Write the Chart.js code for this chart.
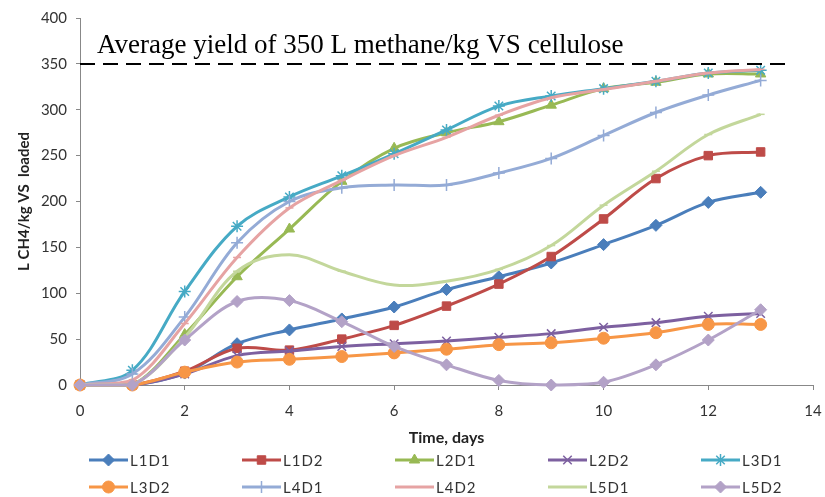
<!DOCTYPE html>
<html>
<head>
<meta charset="utf-8">
<script src="https://cdn.jsdelivr.net/npm/chart.js@4.4.0/dist/chart.umd.min.js"></script>
<style>
  html, body { margin: 0; padding: 0; background: #fff; }
  #wrap { width: 825px; height: 497px; }
</style>
</head>
<body>
<div id="wrap"><canvas id="yieldChart"></canvas></div>
<script>
// time axis (days)
const days = [0, 1, 2, 3, 4, 5, 6, 7, 8, 9, 10, 11, 12, 13];

// cumulative yield, L CH4 / kg VS loaded
const L1D1 = [0, 0, 13, 45, 60, 72, 85, 104, 118, 133, 153, 174, 199, 210];
const L1D2 = [0, 0, 15, 40, 38, 50, 65, 86, 110, 140, 181, 225, 250, 254];
const L2D1 = [0, 0, 55, 118, 170, 222, 258, 275, 287, 305, 323, 330, 339, 339];
const L2D2 = [0, 0, 12, 32, 37, 42, 45, 48, 52, 56, 63, 68, 75, 78];
const L3D1 = [0, 16, 102, 173, 205, 228, 252, 278, 304, 315, 323, 331, 340, 343];
const L3D2 = [0, 0, 14, 25, 28, 31, 35, 39, 44, 46, 51, 57, 66, 66];
const L4D1 = [0, 12, 74, 155, 200, 215, 218, 218, 231, 247, 272, 297, 316, 332];
const L4D2 = [0, 5, 67, 139, 193, 223, 250, 270, 294, 313, 322, 331, 340, 344];
const L5D1 = [0, 0, 52, 124, 142, 124, 109, 113, 126, 152, 196, 233, 273, 295];
const L5D2 = [0, 0, 49, 91, 92, 69, 42, 22, 5, 0, 3, 22, 49, 82];

const seriesNames = ['L1D1', 'L1D2', 'L2D1', 'L2D2', 'L3D1', 'L3D2', 'L4D1', 'L4D2', 'L5D1', 'L5D2'];
const seriesValues = [L1D1, L1D2, L2D1, L2D2, L3D1, L3D2, L4D1, L4D2, L5D1, L5D2];

// reference level and how far the dashed line runs
const refYield = 350;
const refSpan = [0, 13.6];
const refLabel = 'Average yield of 350 L methane/kg VS cellulose';

const colors = ['#4a7ebb', '#be4b48', '#98b954', '#7d60a0', '#46aac5',
                '#f79646', '#94abd6', '#e6a3a3', '#c3d79b', '#b3a2c7'];
const markers = ['rectRot', 'rect', 'triangle', 'crossRot', 'star',
                 'circle', 'cross', 'line', 'line', 'rectRot'];
const markerSize = [6, 6, 6, 6, 6, 6, 6, 4, 4, 6];

const thinMarker = m => m === 'crossRot' || m === 'star' || m === 'cross' || m === 'line';

const datasets = seriesValues.map((vals, i) => ({
    label: seriesNames[i],
    data: days.map((d, k) => ({ x: d, y: vals[k] })),
    borderColor: colors[i],
    backgroundColor: colors[i],
    borderWidth: 3,
    tension: 0.35,
    pointStyle: markers[i],
    pointRadius: markerSize[i],
    pointBorderWidth: thinMarker(markers[i]) ? 1.5 : 1,
    pointBorderColor: colors[i],
    pointBackgroundColor: colors[i],
    clip: false,
    order: 20 - i
}));

datasets.push({
    label: 'ref',
    data: refSpan.map(x => ({ x: x, y: refYield })),
    borderColor: '#000',
    borderWidth: 2,
    borderDash: [15, 8],
    pointRadius: 0,
    clip: false,
    order: 0
});

// Excel-like legend: line with marker, 5 columns x 2 rows
const excelLegend = {
    id: 'excelLegend',
    afterDraw(chart) {
        const ctx = chart.ctx;
        ctx.save();
        ctx.font = '15px Lato, "Open Sans", sans-serif';
        ctx.letterSpacing = '1px';
        ctx.textBaseline = 'middle';
        seriesNames.forEach((name, i) => {
            const x0 = 89 + (i % 5) * 153;
            const y = 460 + Math.floor(i / 5) * 27;
            ctx.strokeStyle = colors[i];
            ctx.lineWidth = 3;
            ctx.beginPath();
            ctx.moveTo(x0, y);
            ctx.lineTo(x0 + 39, y);
            ctx.stroke();
            ctx.fillStyle = colors[i];
            ctx.lineWidth = thinMarker(markers[i]) ? 1.5 : 1;
            Chart.helpers.drawPoint(ctx, { pointStyle: markers[i], radius: markerSize[i], rotation: 0, borderWidth: 1 }, x0 + 19.5, y);
            ctx.fillStyle = '#333';
            ctx.fillText(name, x0 + 41, y + 1);
        });
        ctx.restore();
    }
};

const refText = {
    id: 'refText',
    afterDraw(chart) {
        const ctx = chart.ctx;
        ctx.save();
        ctx.font = '27px "Liberation Serif", "Times New Roman", serif';
        ctx.fillStyle = '#000';
        ctx.textBaseline = 'alphabetic';
        ctx.fillText(refLabel, 97, 53);
        ctx.restore();
    }
};

const tickFont = { family: 'Lato, "Open Sans", sans-serif', size: 15 };

new Chart(document.getElementById('yieldChart'), {
    type: 'line',
    data: { datasets: datasets },
    options: {
        responsive: true,
        maintainAspectRatio: false,
        animation: false,
        layout: { padding: { top: 16, right: 0, bottom: 50, left: 0 } },
        plugins: {
            legend: { display: false },
            tooltip: { enabled: false }
        },
        scales: {
            x: {
                type: 'linear',
                min: 0,
                max: 14,
                ticks: { stepSize: 2, color: '#333', font: tickFont, padding: 12 },
                grid: { drawOnChartArea: false, drawTicks: true, tickLength: 5, color: '#888' },
                border: { color: '#888', width: 1 },
                title: {
                    display: true,
                    text: 'Time, days',
                    color: '#222',
                    font: { family: 'Lato, "Open Sans", sans-serif', size: 16, weight: 'bold' },
                    padding: { top: 0, bottom: 0 }
                },
                afterFit(scale) {
                    scale.height = 62;
                    scale.paddingRight = 12;
                }
            },
            y: {
                min: 0,
                max: 400,
                ticks: { stepSize: 50, color: '#333', font: tickFont, padding: 9 },
                grid: { drawOnChartArea: false, drawTicks: true, tickLength: 4, color: '#888' },
                border: { color: '#888', width: 1 },
                title: {
                    display: true,
                    text: 'L CH4/kg VS  loaded',
                    color: '#222',
                    font: { family: 'Lato, "Open Sans", sans-serif', size: 15, weight: 'bold' },
                    padding: { top: 15, bottom: 0 }
                },
                afterFit(scale) { scale.width = 80; }
            }
        }
    },
    plugins: [excelLegend, refText]
});
</script>
</body>
</html>
